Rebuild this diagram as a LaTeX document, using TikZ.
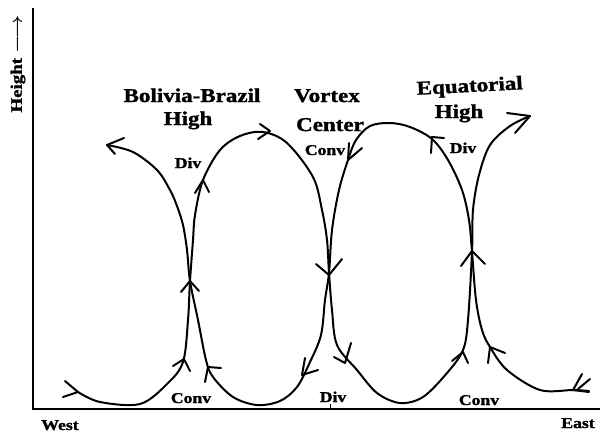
\documentclass[tikz,border=0pt]{standalone}
\usepackage{fontspec}
\setmainfont{Liberation Serif}[BoldFeatures={FakeBold=1.3}]
\usepackage{graphicx}
\newcommand{\stx}[1]{\scalebox{1.18}[1.0]{#1}}
\tikzset{
  flow/.style={line width=2pt, line cap=round, line join=round},
  axisline/.style={line width=1.9pt},
  big/.style={font=\bfseries\fontsize{19.5}{22}\selectfont, inner sep=0pt, anchor=base},
  small/.style={font=\bfseries\fontsize{15}{17}\selectfont, inner sep=0pt, anchor=base},
}
\begin{document}
\begin{tikzpicture}[x=1pt,y=-1pt]
\useasboundingbox (0,0) rectangle (602,432);
% axes
\coordinate (top) at (33,8);
\coordinate (origin) at (33,409);
\coordinate (right) at (600,409);
\draw[axisline] (top) -- (origin) -- (right);
\draw[line width=1pt] (330,404) -- (330,409);
% path L (from far left)
\draw[flow] plot[smooth, tension=0.55] coordinates {
 (78,392) (100,402) (140,404) (167,384) (183,362) (188,320) (190,281)
 (193,240) (195,215) (203,180) (220,150) (240,136) (263,132) (287,143)
 (313,177) (322,210) (327,240) (329,273) (332,310) (337,345) (357,370)
 (377,393) (400,403) (423,397) (447,373) (463,350) (468,320) (472,252)
 (473,210) (479,175) (490,145) (510,126) (530,116)};
% path R (from far right)
\draw[flow] plot[smooth, tension=0.55] coordinates {
 (589,391) (573,390) (540,390) (507,370) (490,347) (482,330) (476,300)
 (472,252) (469,220) (462,190) (448,160) (432,139) (410,127) (390,123)
 (370,126) (356,140) (348,160) (339,190) (332,230) (329,273) (325,300)
 (321,335) (310,362) (297,387) (280,401) (257,405) (233,397) (213,377)
 (206,360) (198,320) (190,281) (187,250) (183,225) (177,206) (170,190)
 (157,170) (133,152) (107,145)};
% arrowheads
\draw[flow] (65,381) -- (78,392) -- (63,397);
\draw[flow] (173,366) -- (184,359) -- (190,371);
\draw[flow] (181,292) -- (190,281) -- (199,291);
\draw[flow] (205,382) -- (208,367) -- (221,368);
\draw[flow] (195,193) -- (203,180) -- (209,192);
\draw[flow] (124,138) -- (107,145) -- (115,154);
\draw[flow] (260,124) -- (270,131) -- (258,139);
\draw[flow] (349,143) -- (348,160) -- (362,148);
\draw[flow] (431,153) -- (432,137) -- (444,138);
\draw[flow] (507,113) -- (530,116) -- (515,133);
\draw[flow] (316,264) -- (329,275) -- (342,259);
\draw[flow] (305,358) -- (302,375) -- (318,370);
\draw[flow] (334,357) -- (345,363) -- (351,343);
\draw[flow] (452,361) -- (463,352) -- (468,363);
\draw[flow] (461,266) -- (472,251) -- (485,264);
\draw[flow] (488,363) -- (490,347) -- (505,353);
\draw[flow] (582,374) -- (573,390) -- (589,392);
\draw[flow] (590,379) -- (578,389);
% labels
\node[big] (bb) at (192,102) {\stx{Bolivia-Brazil}};
\node[big] (bbh) at (188,125) {\stx{High}};
\node[big] (vx) at (327,102) {\stx{Vortex}};
\node[big] (vc) at (330,131) {\stx{Center}};
\node[big, rotate=3] (eq) at (470,92) {\stx{Equatorial}};
\node[big] (eqh) at (459,118) {\stx{High}};
\node[small] (d1) at (188,168) {\stx{Div}};
\node[small] (c1) at (325,155) {\stx{Conv}};
\node[small] (d2) at (463,153) {\stx{Div}};
\node[small] (c2) at (191,403) {\stx{Conv}};
\node[small] (d3) at (333,402) {\stx{Div}};
\node[small] (c3) at (479,405) {\stx{Conv}};
\node[small] (west) at (60,430) {\stx{West}};
\node[small] (east) at (578,428) {\stx{East}};
\node[font=\bfseries\fontsize{16}{17}\selectfont, inner sep=0pt, rotate=90] (ht) at (18,64) {\stx{Height\ {\boldmath$\longrightarrow$}}};
\end{tikzpicture}
\end{document}
